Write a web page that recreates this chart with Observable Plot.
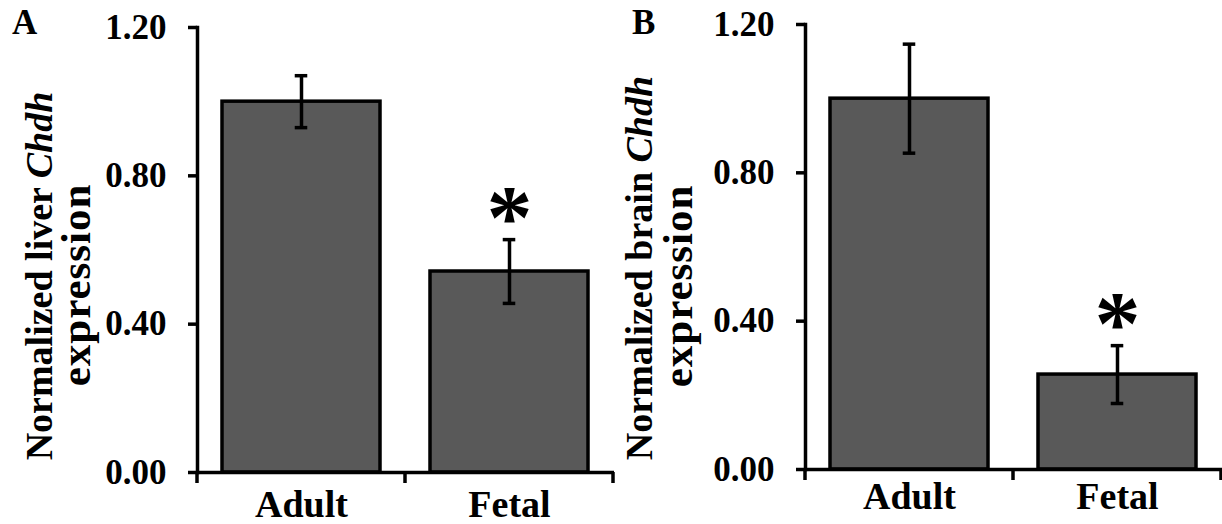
<!DOCTYPE html>
<html>
<head>
<meta charset="utf-8">
<script src="https://cdn.jsdelivr.net/npm/d3@7"></script>
<script src="https://cdn.jsdelivr.net/npm/@observablehq/plot@0.6"></script>
<style>
  html, body { margin: 0; padding: 0; background: white; }
  #fig { display: flex; width: 1222px; height: 524px; overflow: hidden; }
  #fig svg { display: block; flex: none; }
</style>
</head>
<body>
<div id="fig"></div>
<script>
// ---- data ----
const categories = ["Adult", "Fetal"];
const yTicks = [0.0, 0.4, 0.8, 1.2];

const liverValues = [1.00, 0.542];
const liverErrors = [0.07, 0.086];
const liverSignificant = [false, true];

const brainValues = [1.00, 0.256];
const brainErrors = [0.147, 0.078];
const brainSignificant = [false, true];

const panelLetters = ["A", "B"];
const titleLine1 = [["Normalized liver ", "Chdh"], ["Normalized brain ", "Chdh"]];
const titleLine2 = ["expression", "expression"];

// ---- drawing ----
const FONT = "'Liberation Serif', 'Times New Roman', serif";
const PAD_INNER = 0.24;
const SW = 3.5;

function makePanel(cfg) {
  const data = categories.map((c, i) => ({
    cat: c, value: cfg.values[i], err: cfg.errors[i], sig: cfg.sig[i]
  }));
  const n = categories.length;
  const step = (cfg.width - cfg.marginLeft - cfg.marginRight) / n;
  const bandwidth = step * (1 - PAD_INNER);
  const capInset = (bandwidth - 13) / 2;

  const plot = Plot.plot({
    width: cfg.width,
    height: 524,
    marginLeft: cfg.marginLeft,
    marginRight: cfg.marginRight,
    marginTop: cfg.marginTop,
    marginBottom: cfg.marginBottom,
    style: {fontFamily: FONT, fontWeight: "bold", background: "white", color: "black", overflow: "visible"},
    x: {domain: categories, paddingInner: PAD_INNER, paddingOuter: PAD_INNER / 2, label: null},
    y: {domain: [0, 1.2], label: null},
    marks: [
      Plot.barY(data, {x: "cat", y: "value", fill: "#595959", stroke: "black", strokeWidth: SW}),
      Plot.ruleX(data, {x: "cat", y1: d => d.value - d.err, y2: d => d.value + d.err, stroke: "black", strokeWidth: SW}),
      Plot.tickY(data, {x: "cat", y: d => d.value - d.err, stroke: "black", strokeWidth: SW, insetLeft: capInset, insetRight: capInset}),
      Plot.tickY(data, {x: "cat", y: d => d.value + d.err, stroke: "black", strokeWidth: SW, insetLeft: capInset, insetRight: capInset}),
      Plot.text(data.filter(d => d.sig), {x: "cat", y: d => d.value + d.err, text: () => "*", fontSize: 92, fontWeight: "bold", dy: -21, fill: "black"}),
      Plot.ruleY([0], {stroke: "black", strokeWidth: SW}),
      Plot.frame({anchor: "left", stroke: "black", strokeWidth: SW}),
      Plot.axisY(yTicks, {tickSize: 9, tickPadding: 22, tickFormat: d3.format(".2f"), fontSize: 35, strokeWidth: SW, stroke: "black"}),
      Plot.axisX({tickSize: 0, tickPadding: cfg.xPad, fontSize: 38})
    ]
  });

  const svg = d3.select(plot);
  const x = plot.scale("x");
  const y = plot.scale("y");
  const y0 = y.apply(0);
  const gap = (x.step - x.bandwidth) / 2;
  const bounds = categories.map(c => x.apply(c) - gap);
  bounds.push(x.apply(categories[n - 1]) + x.bandwidth + gap);
  svg.append("g").attr("stroke", "black").attr("stroke-width", SW)
    .selectAll("line").data(bounds).join("line")
    .attr("x1", d => d).attr("x2", d => d)
    .attr("y1", y0).attr("y2", y0 + 11);

  // panel letter
  svg.append("text").attr("x", 12).attr("y", 34)
    .attr("text-anchor", "start")
    .attr("font-size", 35).attr("font-weight", "bold").attr("font-family", FONT)
    .text(cfg.letter);

  // y title (two lines, rotated)
  const t1 = svg.append("text")
    .attr("transform", `translate(${cfg.t1x},${cfg.t1y}) rotate(-90)`)
    .attr("text-anchor", "middle").attr("font-size", 38)
    .attr("font-weight", "bold").attr("font-family", FONT);
  t1.append("tspan").text(cfg.title1[0]);
  t1.append("tspan").attr("font-style", "italic").text(cfg.title1[1]);
  svg.append("text")
    .attr("transform", `translate(${cfg.t2x},${cfg.t2y}) rotate(-90)`)
    .attr("text-anchor", "middle").attr("font-size", 43)
    .attr("letter-spacing", 1)
    .attr("font-weight", "bold").attr("font-family", FONT)
    .text(cfg.title2);
  return plot;
}

const fig = document.getElementById("fig");
fig.append(makePanel({
  values: liverValues, errors: liverErrors, sig: liverSignificant,
  width: 620, marginLeft: 197, marginRight: 6, marginTop: 27, marginBottom: 52, xPad: 18,
  letter: panelLetters[0], title1: titleLine1[0], title2: titleLine2[0],
  t1x: 52, t1y: 276, t2x: 90, t2y: 285
}));
fig.append(makePanel({
  values: brainValues, errors: brainErrors, sig: brainSignificant,
  width: 602, marginLeft: 185, marginRight: 0, marginTop: 24, marginBottom: 55, xPad: 13,
  letter: panelLetters[1], title1: titleLine1[1], title2: titleLine2[1],
  t1x: 32, t1y: 268, t2x: 72, t2y: 286
}));
</script>
</body>
</html>
